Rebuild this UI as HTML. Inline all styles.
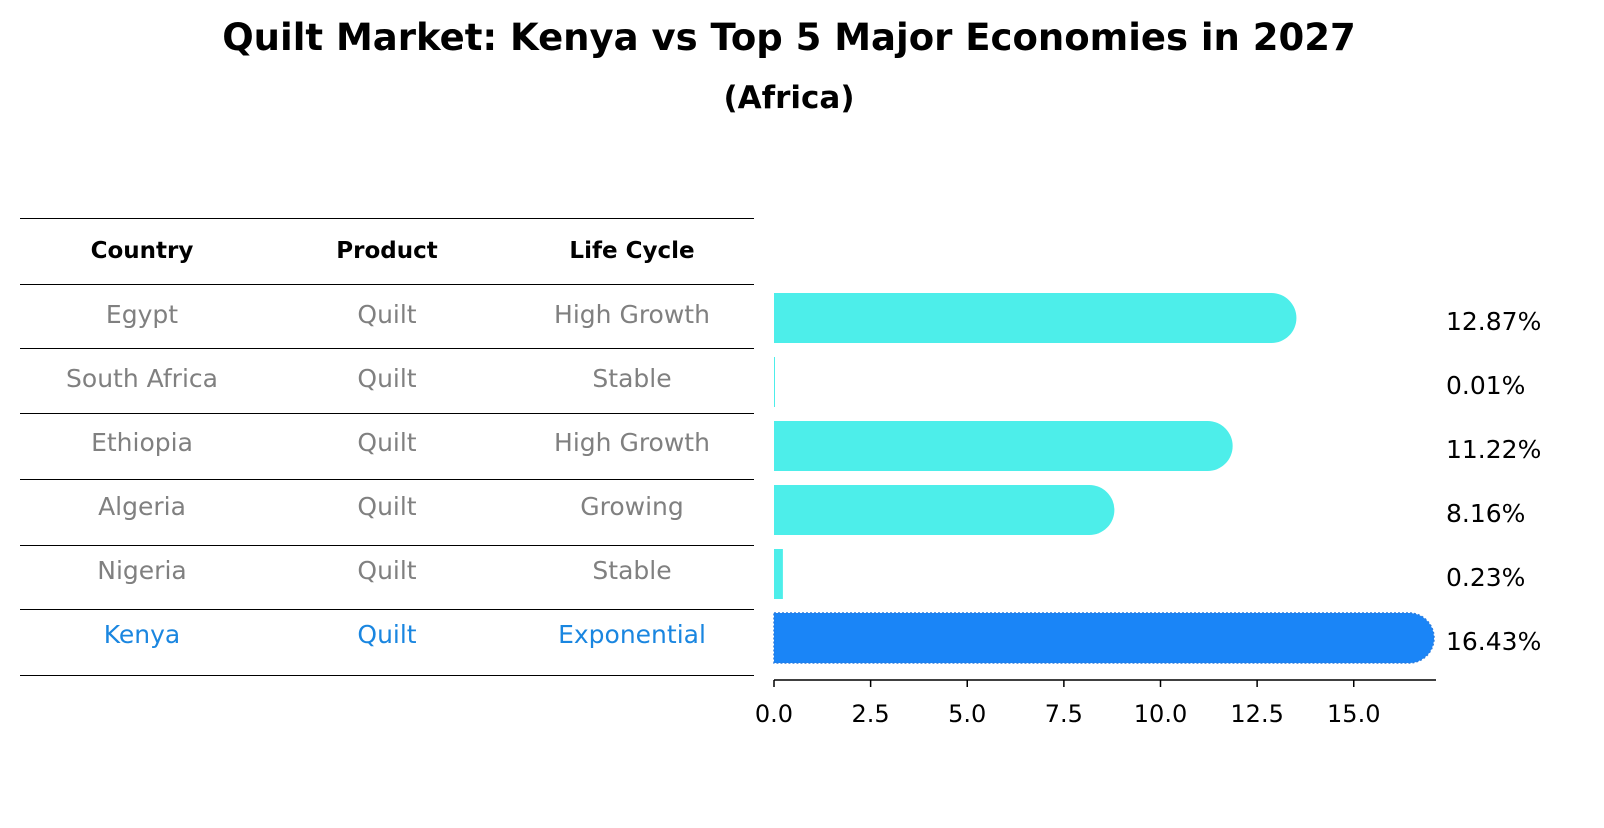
<!DOCTYPE html>
<html><head><meta charset="utf-8"><style>
body{margin:0;background:#fff;}
svg text{font-family:"DejaVu Sans","Liberation Sans",sans-serif;}
</style></head><body>
<svg width="1604" height="823" xmlns="http://www.w3.org/2000/svg">
<text x="789" y="50" text-anchor="middle" font-size="37" font-weight="bold">Quilt Market: Kenya vs Top 5 Major Economies in 2027</text>
<text x="789" y="108" text-anchor="middle" font-size="31" font-weight="bold">(Africa)</text>
<g id="table"></g>
<g id="bars"></g>
</svg>
<script>
const countries=["Egypt","South Africa","Ethiopia","Algeria","Nigeria","Kenya"];
const products=["Quilt","Quilt","Quilt","Quilt","Quilt","Quilt"];
const lifeCycles=["High Growth","Stable","High Growth","Growing","Stable","Exponential"];
const values=[12.87,0.01,11.22,8.16,0.23,16.43];
const ticks=[0,2.5,5,7.5,10,12.5,15];
const NS="http://www.w3.org/2000/svg";
function mk(t,a,p){const e=document.createElementNS(NS,t);for(const k in a)e.setAttribute(k,a[k]);p.appendChild(e);return e;}
const x0=774,pxu=38.65;
const xs=v=>x0+v*pxu;
const rowY=i=>318+i*64;
const tbl=document.getElementById('table'),bars=document.getElementById('bars');
const lineYs=[218,284,348,413,479,545,609,675];
lineYs.forEach((y,i)=>{const l=mk('line',{x1:20,x2:754,y1:y+0.5,y2:y+0.5,stroke:'#000','stroke-width':1},tbl);

});
const colX=[142,387,632];
["Country","Product","Life Cycle"].forEach((h,i)=>{const t=mk('text',{x:colX[i],y:258,'text-anchor':'middle','font-size':23,'font-weight':'bold'},tbl);t.textContent=h;

});
countries.forEach((c,i)=>{
 const col=i===5?'#1a86e0':'#808080';
 [c,products[i],lifeCycles[i]].forEach((s,j)=>{const t=mk('text',{x:colX[j],y:rowY(i)+5,'text-anchor':'middle','font-size':25,fill:col},tbl);t.textContent=s;
 
 });
 const h=50,r=25,y=rowY(i)-h/2,w=xs(values[i])-x0;
 let d;
 if(w>r){const xe=xs(values[i]);d=`M${x0},${y}H${xe}A${r},${r} 0 0 1 ${xe},${y+h}H${x0}Z`;}
 else d=`M${x0},${y}H${x0+Math.max(w,1)}V${y+h}H${x0}Z`;
 const b=mk('path',{d:d,fill:i===5?'#1a85f7':'#4deeea',stroke:i===5?'#2a7de0':'none','stroke-width':i===5?1.5:0,'stroke-dasharray':'2,2'},bars);
 
 
 const t=mk('text',{x:1446,y:rowY(i)+12,'font-size':25},bars);t.textContent=values[i].toFixed(2)+'%';
 
 
});
const ax=mk('line',{x1:x0,x2:1436,y1:680,y2:680,stroke:'#000','stroke-width':1.5},bars);


ticks.forEach(v=>{const l=mk('line',{x1:xs(v),x2:xs(v),y1:680,y2:687,stroke:'#000','stroke-width':1.5},bars);
 
 
 const t=mk('text',{x:xs(v),y:722,'text-anchor':'middle','font-size':24},bars);t.textContent=v.toFixed(1);
 
 });
</script>
</body></html>
